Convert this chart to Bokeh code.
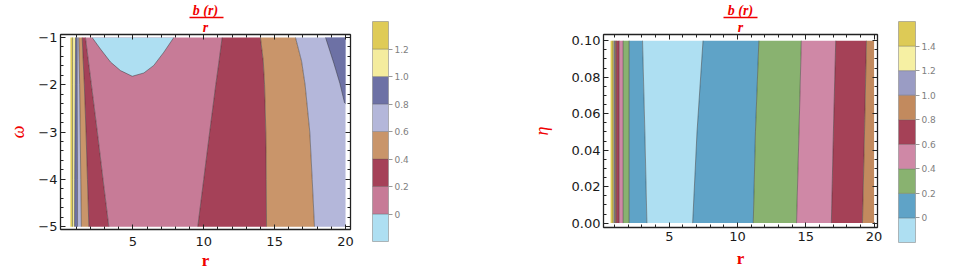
from bokeh.plotting import figure
from bokeh.layouts import row, column
from bokeh.models import Range1d, FixedTicker, LinearAxis, Title
from bokeh.embed import file_html
from bokeh.resources import INLINE

# ---------------- left panel: b(r)/r over (r, omega) ----------------
OMEGA = [-5.0, -4.0, -3.0, -2.0, -1.5, -1.0]
L_RMIN = 0.60
L_RMAX = 20.0
L_C12_A = [0.75, 0.75, 0.75, 0.75, 0.75, 0.75]
L_C10_A = [0.89, 0.90, 0.92, 0.94, 0.95, 0.96]
L_C08_A = [1.10, 1.10, 1.09, 1.08, 1.08, 1.08]
L_C06_A = [1.37, 1.33, 1.29, 1.25, 1.22, 1.19]
L_C04_A = [1.90, 1.80, 1.70, 1.58, 1.50, 1.43]
L_C02_A = [3.31, 2.90, 2.50, 2.08, 1.87, 1.66]
L_C02_B = [9.58, 10.00, 10.42, 10.85, 11.08, 11.30]
L_C04_B = [14.43, 14.41, 14.38, 14.29, 14.20, 14.00]
L_C06_B = [17.81, 17.65, 17.48, 17.15, 16.90, 16.47]
# closed region below zero (top middle)
BUB_R = [2.13, 2.72, 3.43, 4.13, 4.96, 5.78, 6.48, 7.19, 7.89]
BUB_W = [-1.0, -1.245, -1.52, -1.70, -1.82, -1.75, -1.59, -1.31, -1.0]
# region 0.8-1.0 (top right corner)
CRN_R = [18.59, 19.18, 19.60, 19.93, 20.0, 20.0]
CRN_W = [-1.0, -1.55, -1.97, -2.38, -2.40, -1.0]
LEFT_LEVELS = [-0.2, 0.0, 0.2, 0.4, 0.6, 0.8, 1.0, 1.2, 1.4]
LEFT_COLORS = ["#AEDFF2", "#C77B97", "#A54158", "#C9956A",
               "#B4B7DA", "#6D71A5", "#F4EC9E", "#DFCB57"]

# ---------------- right panel: b(r)/r over (r, eta) ----------------
ETA = [0.0, 0.05, 0.10]
R_RMIN = 0.70
R_RMAX = 20.0
R_C14_A = [0.88, 0.88, 0.88]
R_C12_A = [0.96, 0.96, 0.96]
R_C10_A = [1.03, 1.03, 1.03]
R_C08_A = [1.11, 1.11, 1.11]
R_C06_A = [1.33, 1.33, 1.33]
R_C04_A = [1.62, 1.62, 1.62]
R_C02_A = [2.06, 2.06, 2.06]
R_C00_A = [3.36, 3.21, 3.04]
R_C00_B = [6.71, 7.03, 7.47]
R_C02_B = [11.15, 11.31, 11.56]
R_C04_B = [14.32, 14.50, 14.67]
R_C06_B = [16.87, 17.02, 17.19]
R_C08_B = [19.15, 19.30, 19.44]
RIGHT_LEVELS = [-0.2, 0.0, 0.2, 0.4, 0.6, 0.8, 1.0, 1.2, 1.4, 1.6]
RIGHT_COLORS = ["#AEDFF2", "#5FA3C7", "#89B270", "#CF88A6", "#A54157",
                "#C28A5E", "#9A9CC4", "#F6F0A3", "#DDCA56"]

X_TICKS = [5, 10, 15, 20]
X_MINOR = list(range(1, 21))
LEFT_Y_TICKS = [-5, -4, -3, -2, -1]
RIGHT_Y_TICKS = [0.0, 0.02, 0.04, 0.06, 0.08, 0.10]

TICK_FONT = "DejaVu Sans"
RED = "#F00000"
H = 273


def band(left, right, ys):
    return list(left) + list(right)[::-1], list(ys) + list(ys)[::-1]


def const(v, ys):
    return [v] * len(ys)


def style_frame(p, xt, xm, yt, ym, yover, frac_bounds, tick_sd, lab_sd):
    bottom = p.below[0]
    left = p.left[0]
    bottom.ticker = FixedTicker(ticks=xt, minor_ticks=xm)
    left.ticker = FixedTicker(ticks=yt, minor_ticks=ym)
    left.major_label_overrides = yover
    top = LinearAxis(ticker=FixedTicker(ticks=xt, minor_ticks=xm),
                     major_label_text_color=None, major_label_text_font_size="0px",
                     major_label_standoff=0)
    rgt = LinearAxis(ticker=FixedTicker(ticks=yt, minor_ticks=ym),
                     major_label_text_color=None, major_label_text_font_size="0px",
                     major_label_standoff=0)
    p.add_layout(top, "above")
    p.add_layout(rgt, "right")
    for ax in (bottom, left, top, rgt):
        ax.major_tick_in = 5
        ax.major_tick_out = 0
        ax.minor_tick_in = 3
        ax.minor_tick_out = 0
        ax.axis_line_color = "#222222"
        ax.axis_line_width = 1.3
        ax.major_tick_line_color = "#222222"
        ax.minor_tick_line_color = "#222222"
    for ax in (bottom, left):
        ax.major_label_text_font = TICK_FONT
        ax.major_label_text_font_size = "13px"
        ax.major_label_text_color = "#1a1a1a"
    bottom.major_label_standoff = tick_sd
    left.major_label_standoff = 3
    bottom.axis_label = "r"
    bottom.axis_label_text_font = "Liberation Serif"
    bottom.axis_label_text_font_style = "bold"
    bottom.axis_label_text_font_size = "17px"
    bottom.axis_label_text_color = RED
    bottom.axis_label_standoff = lab_sd
    # fraction title b(r)/r stacked above the frame
    p.add_layout(Title(text="r", align="center", text_font="Liberation Serif",
                       text_font_style="bold italic", text_font_size="14px",
                       text_color=RED, standoff=0, offset=0), "above")
    bar = LinearAxis(bounds=frac_bounds, ticker=FixedTicker(ticks=[]),
                     major_label_text_color=None, major_label_text_font_size="0px",
                     major_label_standoff=0, major_tick_line_color=None,
                     minor_tick_line_color=None, axis_line_color=RED,
                     axis_line_width=1.5)
    p.add_layout(bar, "above")
    p.add_layout(Title(text="b (r)", align="center", text_font="Liberation Serif",
                       text_font_style="bold italic", text_font_size="14px",
                       text_color=RED, standoff=0, offset=0), "above")
    p.grid.visible = False
    p.outline_line_color = "#222222"
    p.background_fill_color = "white"
    p.border_fill_color = "white"
    return left


def colorbar(levels, colors, width, left_pad, bar_w, top_pad, bot_pad, ticks, over):
    cb = figure(width=width, height=H, x_range=Range1d(0, 1),
                y_range=Range1d(levels[0], levels[-1]), title=None,
                toolbar_location=None, output_backend="svg",
                x_axis_location=None, y_axis_location="right",
                min_border_left=left_pad, min_border_right=width - left_pad - bar_w,
                min_border_top=top_pad, min_border_bottom=bot_pad)
    cb.quad(left=0, right=1, bottom=levels[:-1], top=levels[1:],
            fill_color=colors, line_color="#555555", line_alpha=0.35, line_width=0.8)
    ax = cb.yaxis[0]
    ax.ticker = FixedTicker(ticks=ticks)
    ax.major_label_overrides = over
    ax.axis_line_color = None
    ax.major_tick_in = 0
    ax.major_tick_out = 4
    ax.minor_tick_line_color = None
    ax.major_tick_line_color = "#999999"
    ax.major_label_text_color = "#808080"
    ax.major_label_text_font = TICK_FONT
    ax.major_label_text_font_size = "9px"
    ax.major_label_standoff = 2
    cb.grid.visible = False
    cb.outline_line_color = "#bbbbbb"
    cb.border_fill_color = "white"
    return cb


# ---------------- left figure ----------------
p1 = figure(width=360, height=H, x_range=Range1d(-0.1, 20.35),
            y_range=Range1d(-5.06, -0.937), toolbar_location=None, title=None,
            output_backend="svg", min_border_left=60, min_border_right=10,
            min_border_top=32, min_border_bottom=H - 229)

left_bounds = [const(L_RMIN, OMEGA), L_C12_A, L_C10_A, L_C08_A, L_C06_A, L_C04_A,
               L_C02_A, L_C02_B, L_C04_B, L_C06_B, const(L_RMAX, OMEGA)]
left_band_levels = [7, 6, 5, 4, 3, 2, 1, 2, 3, 4]
xs, ys, cs = [], [], []
for i, lvl in enumerate(left_band_levels):
    bx, by = band(left_bounds[i], left_bounds[i + 1], OMEGA)
    xs.append(bx); ys.append(by); cs.append(LEFT_COLORS[lvl])
p1.patches(xs, ys, fill_color=cs, line_color=None)
p1.patch(BUB_R, BUB_W, fill_color=LEFT_COLORS[0], line_color=None)
p1.patch(CRN_R, CRN_W, fill_color=LEFT_COLORS[5], line_color=None)
p1.multi_line([list(b) for b in left_bounds[1:-1]] + [BUB_R, CRN_R[:5]],
              [OMEGA] * (len(left_bounds) - 2) + [BUB_W, CRN_W[:5]],
              line_color="#2a2a2a", line_alpha=0.5, line_width=0.9)

ly1 = style_frame(p1, X_TICKS, X_MINOR, LEFT_Y_TICKS,
                  [round(-5 + 0.2 * k, 1) for k in range(21)],
                  {-1: "\u22121", -2: "\u22122", -3: "\u22123", -4: "\u22124",
                   -5: "\u22125"}, (9.0, 11.4), 7, 2)
ly1.axis_label = "\u03c9"
ly1.axis_label_text_font = "Liberation Serif"
ly1.axis_label_text_font_style = "italic"
ly1.axis_label_text_font_size = "18px"
ly1.axis_label_text_color = RED
ly1.axis_label_standoff = 7

cb1 = colorbar(LEFT_LEVELS, LEFT_COLORS, 60, 12, 16, 21, H - 241,
               [0.0, 0.2, 0.4, 0.6, 0.8, 1.0, 1.2],
               {0.0: "0", 0.2: "0.2", 0.4: "0.4", 0.6: "0.6", 0.8: "0.8",
                1.0: "1.0", 1.2: "1.2"})

# ---------------- right figure ----------------
p2 = figure(width=465, height=H, x_range=Range1d(0.18, 20.25),
            y_range=Range1d(-0.0024, 0.1034), toolbar_location=None, title=None,
            output_backend="svg", min_border_left=183, min_border_right=8,
            min_border_top=34, min_border_bottom=H - 227)

right_bounds = [const(R_RMIN, ETA), R_C14_A, R_C12_A, R_C10_A, R_C08_A, R_C06_A,
                R_C04_A, R_C02_A, R_C00_A, R_C00_B, R_C02_B, R_C04_B, R_C06_B,
                R_C08_B, const(R_RMAX, ETA)]
right_band_levels = [8, 7, 6, 5, 4, 3, 2, 1, 0, 1, 2, 3, 4, 5]
xs, ys, cs = [], [], []
for i, lvl in enumerate(right_band_levels):
    bx, by = band(right_bounds[i], right_bounds[i + 1], ETA)
    xs.append(bx); ys.append(by); cs.append(RIGHT_COLORS[lvl])
p2.patches(xs, ys, fill_color=cs, line_color=None)
p2.multi_line([list(b) for b in right_bounds[1:-1]], [ETA] * (len(right_bounds) - 2),
              line_color="#2a2a2a", line_alpha=0.5, line_width=0.9)

ly2 = style_frame(p2, X_TICKS, X_MINOR, RIGHT_Y_TICKS,
                  [round(0.005 * k, 3) for k in range(21)],
                  {0.0: "0.00", 0.02: "0.02", 0.04: "0.04", 0.06: "0.06",
                   0.08: "0.08", 0.10: "0.10"}, (8.95, 11.45), 4, 5)
ly2.axis_label = "\u03b7"
ly2.axis_label_text_font = "Liberation Serif"
ly2.axis_label_text_font_style = "italic"
ly2.axis_label_text_font_size = "18px"
ly2.axis_label_text_color = RED
ly2.axis_label_standoff = 17

cb2 = colorbar(RIGHT_LEVELS, RIGHT_COLORS, 62, 13, 17, 21, H - 242,
               [0.0, 0.2, 0.4, 0.6, 0.8, 1.0, 1.2, 1.4],
               {0.0: "0", 0.2: "0.2", 0.4: "0.4", 0.6: "0.6", 0.8: "0.8",
                1.0: "1.0", 1.2: "1.2", 1.4: "1.4"})

layout = row(column(p1), column(cb1), column(p2), column(cb2))
open("out.html", "w").write(file_html(layout, INLINE))
